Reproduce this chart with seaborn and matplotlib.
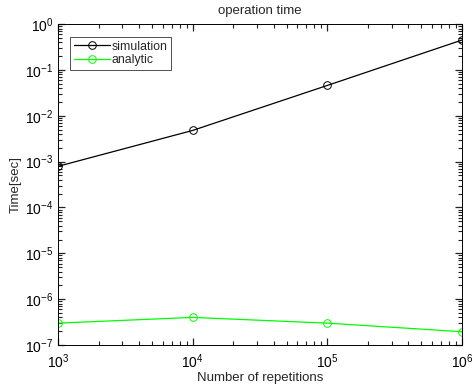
import matplotlib
matplotlib.use("Agg")
import matplotlib.pyplot as plt
import seaborn as sns
import pandas as pd
from matplotlib.ticker import LogLocator, NullFormatter, LogFormatterSciNotation

# Data
repetitions = [1e3, 1e4, 1e5, 1e6]
sim_time = [7.9e-4, 4.8e-3, 4.6e-2, 0.45]
analytic_time = [3.0e-7, 4.0e-7, 3.0e-7, 1.95e-7]
y_decades = [1e-7, 1e-6, 1e-5, 1e-4, 1e-3, 1e-2, 1e-1, 1e0]

df = pd.DataFrame({
    "reps": repetitions * 2,
    "time": sim_time + analytic_time,
    "method": ["simulation"] * 4 + ["analytic"] * 4,
})

sns.set_style("ticks")
plt.rcParams["font.family"] = ["Liberation Sans", "DejaVu Sans"]
plt.rcParams["font.size"] = 9

fig = plt.figure(figsize=(4.77, 3.88), dpi=100)
ax = fig.add_axes([0.1216, 0.1108, 0.847, 0.827])

sns.lineplot(data=df, x="reps", y="time", hue="method",
             palette={"simulation": "black", "analytic": "#00ff00"},
             marker="o", markersize=5.5, markerfacecolor="none",
             markeredgewidth=0.7, linewidth=0.9, ax=ax, legend=False)
for line, c in zip(ax.lines, ["black", "#00ff00"]):
    line.set_markeredgecolor(c)
    line.set_label("simulation" if c == "black" else "analytic")

ax.set_xscale("log")
ax.set_yscale("log")
ax.set_xlim(repetitions[0], repetitions[-1])
ax.set_ylim(y_decades[0], y_decades[-1])
ax.set_xticks(repetitions)
ax.set_yticks(y_decades)
for axis in (ax.xaxis, ax.yaxis):
    axis.set_major_formatter(LogFormatterSciNotation())
    axis.set_minor_locator(LogLocator(base=10, subs=(2, 3, 4, 5, 6, 7, 8, 9), numticks=20))
    axis.set_minor_formatter(NullFormatter())

ax.tick_params(which="both", direction="in", top=True, right=True,
               bottom=True, left=True, color="#222222", labelcolor="black")
ax.tick_params(which="major", length=5, width=0.9, labelsize=10)
ax.tick_params(which="minor", length=3, width=0.8)
ax.tick_params(axis="x", which="major", pad=5)
for s in ax.spines.values():
    s.set_linewidth(0.7)
    s.set_color("black")

ax.set_title("operation time", fontsize=9.5, pad=7)
ax.set_xlabel("Number of repetitions", fontsize=9.5, labelpad=1)
ax.set_ylabel("Time[sec]", fontsize=9.5, labelpad=2)

leg = ax.legend(loc="upper left", bbox_to_anchor=(0.03, 0.96), fontsize=8.8,
                frameon=True, fancybox=False, borderpad=0.3,
                handlelength=3.0, handletextpad=0.1, labelspacing=0.15,
                borderaxespad=0)
leg.get_frame().set_edgecolor("black")
leg.get_frame().set_linewidth(0.6)

fig.savefig("out.png", dpi=100)
